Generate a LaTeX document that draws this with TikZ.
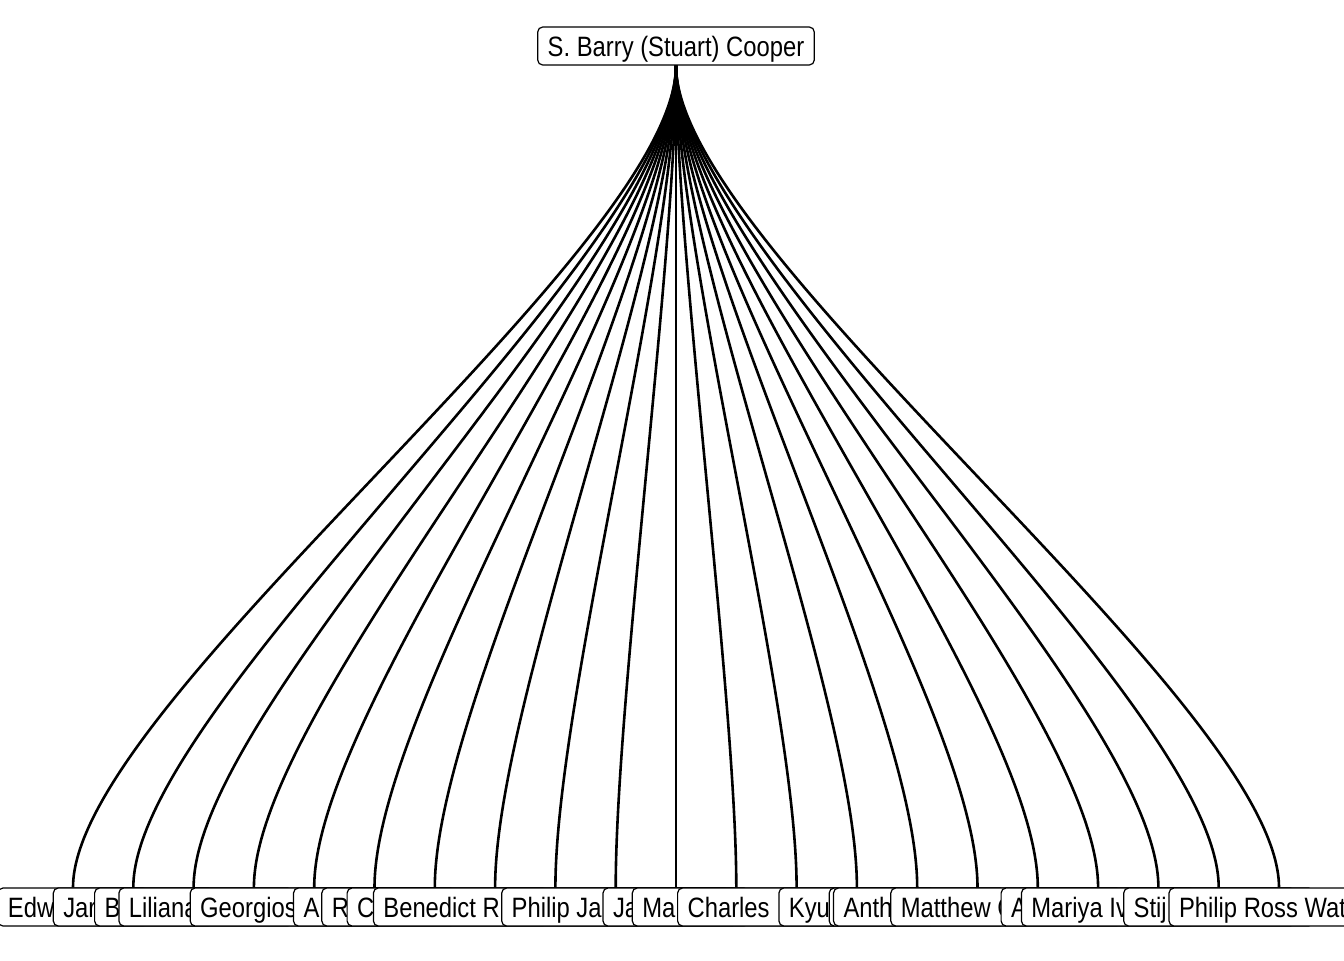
\documentclass[tikz,border=0pt]{standalone}
\usepackage{fontspec}
\setmainfont{Liberation Sans}[FakeStretch=0.85]
\begin{document}
\begin{tikzpicture}[x=0.5pt,y=-0.5pt,
  nimi/.style={draw, rounded corners=2.5pt, fill=white, line width=0.6pt,
    font=\fontsize{14pt}{16pt}\selectfont, inner xsep=5pt, inner ysep=1pt,
    text height=13.8pt, text depth=3.2pt},
  kaari/.style={draw, line width=1.3pt, -}]
\useasboundingbox (0,0) rectangle (1344,960);
\node[nimi] (juuri) at (676,46) {S. Barry (Stuart) Cooper};
% leaves: number / box width (px) / visible text
\foreach \i/\w/\t in {1/150/Edw, 2/160/Jar, 3/198/B, 4/270/Liliana,
  5/248/Georgios, 6/162/A, 7/226/R, 8/296/C, 9/364/Benedict R,
  10/228/Philip Ja, 11/146/Ja, 12/208/Ma, 13/238/Charles, 14/156/Kyu,
  15/176/{}, 16/288/Anth, 17/294/Matthew C, 18/194/A, 19/274/Mariya Iv,
  20/190/Stij, 21/220/Philip Ross Wat}{
  \pgfmathsetmacro\px{73+60.3*(\i-1)}
  \pgfmathsetmacro\tw{\w*0.5-10}
  \node[nimi, text width=\tw pt, align=flush left] (lehti\i) at (\px,907) {\t};
}
\foreach \i in {1,...,21}{
  \path[kaari] (juuri.south) .. controls +(0,185) and +(0,-185) .. (lehti\i.north);
}
\end{tikzpicture}
\end{document}
